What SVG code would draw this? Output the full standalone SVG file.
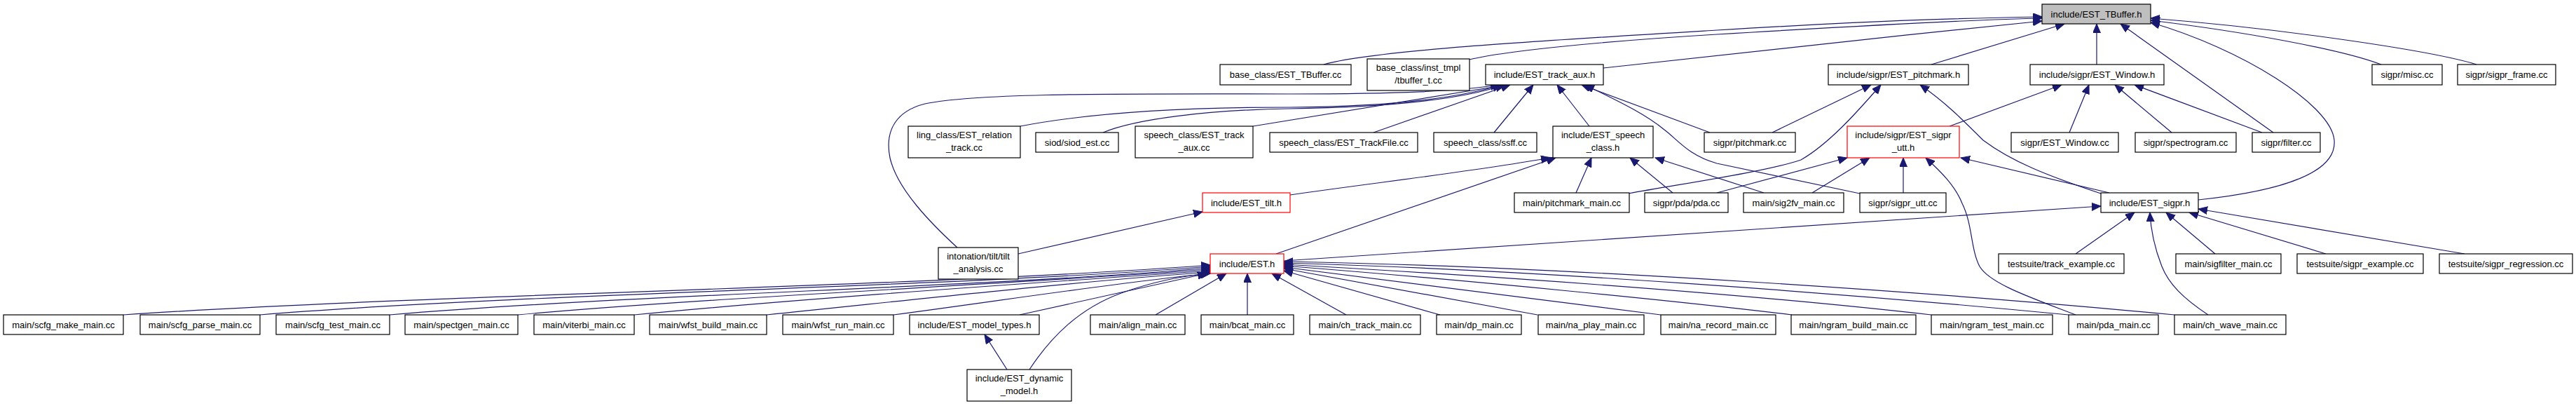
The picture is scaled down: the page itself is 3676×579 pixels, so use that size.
<svg xmlns="http://www.w3.org/2000/svg" width="3676" height="579" viewBox="0 0 3676 579">
<style>
.n rect{fill:#fff;stroke:#000;stroke-width:1.2}
.n.r rect{stroke:#ff0000}
.n.root rect{fill:#bfbfbf}
text{font-family:"Liberation Sans",Arial,sans-serif;font-size:13px;text-anchor:middle;fill:#000}
.e path{fill:none;stroke:#191970;stroke-width:1.2;marker-end:url(#ah)}
</style>
<defs>
<marker id="ah" markerUnits="userSpaceOnUse" markerWidth="14" markerHeight="12" refX="13" refY="5.5" orient="auto"><path d="M0,0 L13,5.5 L0,11 z" fill="#191970" stroke="#191970" stroke-width="1"/></marker>
</defs>
<rect width="3676" height="579" fill="#fff"/>
<g id="edges" class="e">
<path d="M1889,92 C1960,72 2200,58 2450,43 S2800,26 2914,24"/>
<path d="M2097,85 C2150,72 2300,58 2450,49 S2800,28 2914,26"/>
<path d="M2288,97 C2450,78 2700,52 2914,30"/>
<path d="M2756,92 L2946,34"/>
<path d="M2992,92 L2992,34"/>
<path d="M3244,189 L3026,34"/>
<path d="M3137,285 C3260,272 3335,245 3331,200 C3327,150 3200,70 3069,32"/>
<path d="M3398,92 C3340,70 3200,45 3069,29"/>
<path d="M3534,92 C3470,72 3250,40 3069,26"/>
<path d="M1366,353 C1330,320 1280,270 1270,225 C1262,185 1280,158 1320,148 C1400,132 1600,134 1840,134 C2000,134 2080,130 2140,121"/>
<path d="M1456,180 C1560,160 1700,153 1840,153 C1980,152 2080,140 2143,121"/>
<path d="M1574,189 C1620,170 1720,157 1840,155 C1980,153 2085,142 2147,121"/>
<path d="M1788,180 L2150,121"/>
<path d="M1960,189 L2155,121"/>
<path d="M2132,189 L2188,121"/>
<path d="M2268,180 L2222,121"/>
<path d="M2440,189 L2257,121"/>
<path d="M2654,276 L2450,233 C2410,222 2395,200 2375,185 C2345,160 2300,140 2262,121"/>
<path d="M2529,189 L2670,121"/>
<path d="M2324,276 C2400,262 2520,245 2570,228 C2610,205 2650,160 2684,121"/>
<path d="M2998,276 C2920,250 2870,230 2830,200 C2800,170 2775,145 2740,121"/>
<path d="M2782,180 L2942,121"/>
<path d="M2953,189 L2981,121"/>
<path d="M3099,189 L3018,121"/>
<path d="M3228,189 L3046,121"/>
<path d="M1841,278 C1950,262 2100,245 2212,225"/>
<path d="M1821,362 L2220,225"/>
<path d="M2249,275 L2271,225"/>
<path d="M2387,275 L2326,225"/>
<path d="M2517,275 L2362,225"/>
<path d="M2450,275 L2636,225"/>
<path d="M2586,275 L2668,225"/>
<path d="M2716,275 L2716,225"/>
<path d="M2962,449 C2900,425 2840,405 2825,380 C2812,355 2815,320 2800,290 C2790,265 2770,245 2748,225"/>
<path d="M3010,275 L2798,225"/>
<path d="M1453,362 L1716,302"/>
<path d="M1832,372 L2998,294"/>
<path d="M2962,362 L3046,303"/>
<path d="M3161,362 L3091,303"/>
<path d="M3319,362 L3124,303"/>
<path d="M3517,362 L3137,298"/>
<path d="M3151,449 C3115,425 3095,405 3085,380 C3074,352 3069,325 3068,303"/>
<path d="M176,449 C600,420 1300,410 1727,378"/>
<path d="M371,449 C750,418 1350,410 1727,380"/>
<path d="M556,449 C900,420 1400,410 1727,382"/>
<path d="M739,449 C1000,425 1450,405 1727,384"/>
<path d="M905,449 C1150,425 1500,402 1727,386"/>
<path d="M1094,449 C1300,428 1550,400 1727,388"/>
<path d="M1275,449 C1420,430 1600,402 1727,390"/>
<path d="M1455,449 L1722,390"/>
<path d="M1469,527 C1500,480 1540,440 1600,418 C1650,400 1690,393 1727,390"/>
<path d="M1437,527 L1405,477"/>
<path d="M1649,449 L1750,390"/>
<path d="M1780,449 L1780,390"/>
<path d="M1921,449 L1815,390"/>
<path d="M2055,449 L1832,386"/>
<path d="M2194,449 L1832,383"/>
<path d="M2370,449 L1832,381"/>
<path d="M2557,449 C2400,430 2100,400 1832,379"/>
<path d="M2756,449 C2500,420 2150,395 1832,377"/>
<path d="M2952,449 C2650,420 2200,385 1832,375"/>
<path d="M3103,449 C2800,420 2250,380 1832,373"/>
</g>
<g id="n0" class="n root"><rect x="2914" y="6" width="155" height="28"/><text x="2991.5" y="24.5">include/EST_TBuffer.h</text></g>
<g id="n1" class="n"><rect x="1741" y="92" width="187" height="29"/><text x="1834.5" y="111">base_class/EST_TBuffer.cc</text></g>
<g id="n2" class="n"><rect x="1951" y="84" width="146" height="45"/><text x="2024" y="101">base_class/inst_tmpl</text><text x="2024" y="119">/tbuffer_t.cc</text></g>
<g id="n3" class="n"><rect x="2120" y="92" width="168" height="29"/><text x="2204" y="111">include/EST_track_aux.h</text></g>
<g id="n4" class="n"><rect x="2609" y="92" width="200" height="29"/><text x="2709" y="111">include/sigpr/EST_pitchmark.h</text></g>
<g id="n5" class="n"><rect x="2897" y="92" width="191" height="29"/><text x="2992.5" y="111">include/sigpr/EST_Window.h</text></g>
<g id="n6" class="n"><rect x="3385" y="92" width="100" height="29"/><text x="3435" y="111">sigpr/misc.cc</text></g>
<g id="n7" class="n"><rect x="3507" y="92" width="140" height="29"/><text x="3577" y="111">sigpr/sigpr_frame.cc</text></g>
<g id="n8" class="n"><rect x="1296" y="180" width="160" height="45"/><text x="1376" y="197">ling_class/EST_relation</text><text x="1376" y="215">_track.cc</text></g>
<g id="n9" class="n"><rect x="1478" y="189" width="118" height="28"/><text x="1537" y="207.5">siod/siod_est.cc</text></g>
<g id="n10" class="n"><rect x="1620" y="180" width="168" height="45"/><text x="1704" y="197">speech_class/EST_track</text><text x="1704" y="215">_aux.cc</text></g>
<g id="n11" class="n"><rect x="1812" y="189" width="211" height="28"/><text x="1917.5" y="207.5">speech_class/EST_TrackFile.cc</text></g>
<g id="n12" class="n"><rect x="2046" y="189" width="147" height="28"/><text x="2119.5" y="207.5">speech_class/ssff.cc</text></g>
<g id="n13" class="n"><rect x="2216" y="180" width="143" height="45"/><text x="2287.5" y="197">include/EST_speech</text><text x="2287.5" y="215">_class.h</text></g>
<g id="n14" class="n"><rect x="2432" y="189" width="130" height="28"/><text x="2497" y="207.5">sigpr/pitchmark.cc</text></g>
<g id="n15" class="n r"><rect x="2636" y="180" width="160" height="45"/><text x="2716" y="197">include/sigpr/EST_sigpr</text><text x="2716" y="215">_utt.h</text></g>
<g id="n16" class="n"><rect x="2870" y="189" width="153" height="28"/><text x="2946.5" y="207.5">sigpr/EST_Window.cc</text></g>
<g id="n17" class="n"><rect x="3047" y="189" width="144" height="28"/><text x="3119" y="207.5">sigpr/spectrogram.cc</text></g>
<g id="n18" class="n"><rect x="3214" y="189" width="97" height="28"/><text x="3262.5" y="207.5">sigpr/filter.cc</text></g>
<g id="n19" class="n r"><rect x="1716" y="275" width="125" height="28"/><text x="1778.5" y="293.5">include/EST_tilt.h</text></g>
<g id="n20" class="n"><rect x="2161" y="275" width="164" height="28"/><text x="2243" y="293.5">main/pitchmark_main.cc</text></g>
<g id="n21" class="n"><rect x="2347" y="275" width="119" height="28"/><text x="2406.5" y="293.5">sigpr/pda/pda.cc</text></g>
<g id="n22" class="n"><rect x="2488" y="275" width="143" height="28"/><text x="2559.5" y="293.5">main/sig2fv_main.cc</text></g>
<g id="n23" class="n"><rect x="2654" y="275" width="123" height="28"/><text x="2715.5" y="293.5">sigpr/sigpr_utt.cc</text></g>
<g id="n24" class="n"><rect x="2998" y="275" width="139" height="28"/><text x="3067.5" y="293.5">include/EST_sigpr.h</text></g>
<g id="n25" class="n"><rect x="1339" y="353" width="114" height="45"/><text x="1396" y="370">intonation/tilt/tilt</text><text x="1396" y="388">_analysis.cc</text></g>
<g id="n26" class="n r"><rect x="1727" y="362" width="105" height="28"/><text x="1779.5" y="380.5">include/EST.h</text></g>
<g id="n27" class="n"><rect x="2852" y="362" width="179" height="28"/><text x="2941.5" y="380.5">testsuite/track_example.cc</text></g>
<g id="n28" class="n"><rect x="3105" y="362" width="150" height="28"/><text x="3180" y="380.5">main/sigfilter_main.cc</text></g>
<g id="n29" class="n"><rect x="3278" y="362" width="180" height="28"/><text x="3368" y="380.5">testsuite/sigpr_example.cc</text></g>
<g id="n30" class="n"><rect x="3481" y="362" width="190" height="28"/><text x="3576" y="380.5">testsuite/sigpr_regression.cc</text></g>
<g id="n31" class="n"><rect x="5" y="449" width="171" height="28"/><text x="90.5" y="467.5">main/scfg_make_main.cc</text></g>
<g id="n32" class="n"><rect x="200" y="449" width="171" height="28"/><text x="285.5" y="467.5">main/scfg_parse_main.cc</text></g>
<g id="n33" class="n"><rect x="394" y="449" width="162" height="28"/><text x="475" y="467.5">main/scfg_test_main.cc</text></g>
<g id="n34" class="n"><rect x="578" y="449" width="161" height="28"/><text x="658.5" y="467.5">main/spectgen_main.cc</text></g>
<g id="n35" class="n"><rect x="762" y="449" width="143" height="28"/><text x="833.5" y="467.5">main/viterbi_main.cc</text></g>
<g id="n36" class="n"><rect x="927" y="449" width="167" height="28"/><text x="1010.5" y="467.5">main/wfst_build_main.cc</text></g>
<g id="n37" class="n"><rect x="1117" y="449" width="158" height="28"/><text x="1196" y="467.5">main/wfst_run_main.cc</text></g>
<g id="n38" class="n"><rect x="1298" y="449" width="185" height="28"/><text x="1390.5" y="467.5">include/EST_model_types.h</text></g>
<g id="n39" class="n"><rect x="1556" y="449" width="135" height="28"/><text x="1623.5" y="467.5">main/align_main.cc</text></g>
<g id="n40" class="n"><rect x="1714" y="449" width="132" height="28"/><text x="1780" y="467.5">main/bcat_main.cc</text></g>
<g id="n41" class="n"><rect x="1869" y="449" width="158" height="28"/><text x="1948" y="467.5">main/ch_track_main.cc</text></g>
<g id="n42" class="n"><rect x="2050" y="449" width="121" height="28"/><text x="2110.5" y="467.5">main/dp_main.cc</text></g>
<g id="n43" class="n"><rect x="2195" y="449" width="151" height="28"/><text x="2270.5" y="467.5">main/na_play_main.cc</text></g>
<g id="n44" class="n"><rect x="2370" y="449" width="164" height="28"/><text x="2452" y="467.5">main/na_record_main.cc</text></g>
<g id="n45" class="n"><rect x="2556" y="449" width="178" height="28"/><text x="2645" y="467.5">main/ngram_build_main.cc</text></g>
<g id="n46" class="n"><rect x="2756" y="449" width="173" height="28"/><text x="2842.5" y="467.5">main/ngram_test_main.cc</text></g>
<g id="n47" class="n"><rect x="2952" y="449" width="128" height="28"/><text x="3016" y="467.5">main/pda_main.cc</text></g>
<g id="n48" class="n"><rect x="3103" y="449" width="159" height="28"/><text x="3182.5" y="467.5">main/ch_wave_main.cc</text></g>
<g id="n49" class="n"><rect x="1380" y="527" width="149" height="45"/><text x="1454.5" y="544">include/EST_dynamic</text><text x="1454.5" y="562">_model.h</text></g>
</svg>
